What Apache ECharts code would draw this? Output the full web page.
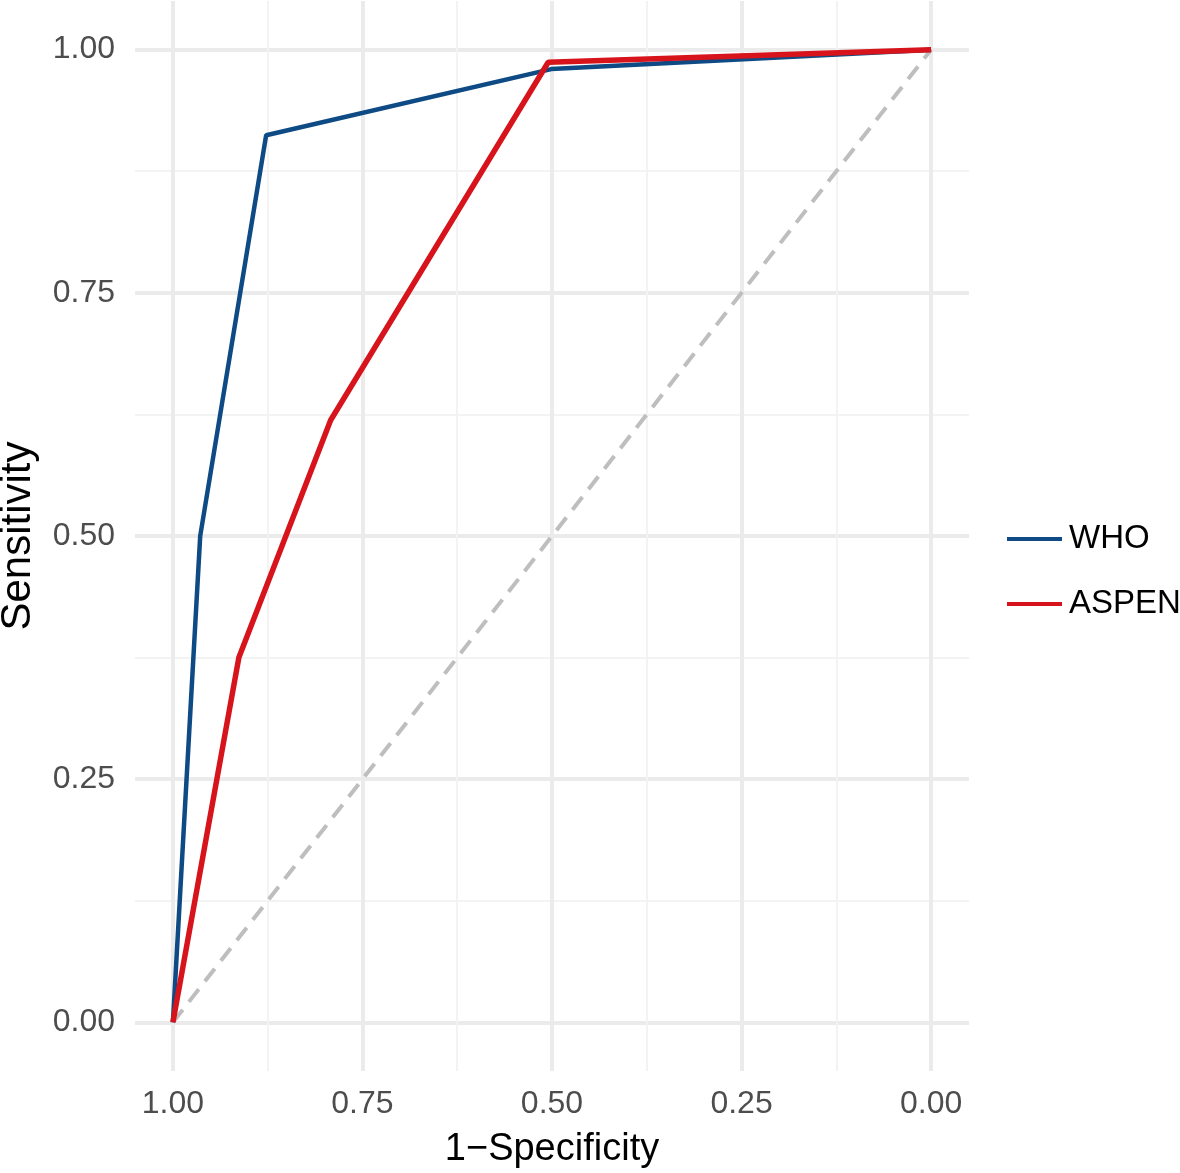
<!DOCTYPE html>
<html><head><meta charset="utf-8">
<script src="https://cdn.jsdelivr.net/npm/echarts@6/dist/echarts.min.js"></script>
<style>html,body{margin:0;padding:0;background:#fff}#c{width:1180px;height:1173px}</style>
</head><body><div id="c"></div>
<script>
const tickValues = [0, 0.25, 0.5, 0.75, 1];
const minorValues = [0.125, 0.375, 0.625, 0.875];
const whoX = [1, 0.964, 0.877, 0.501, 0];
const whoY = [0, 0.50, 0.912, 0.980, 1];
const aspenX = [1, 0.913, 0.792, 0.505, 0];
const aspenY = [0, 0.375, 0.619, 0.987, 1];
const refX = [1, 0];
const refY = [0, 1];

const font = '"Liberation Sans", Arial, sans-serif';
const zip = (a, b) => a.map((v, i) => [v, b[i]]);

function axis(isX, major) {
  const vals = major ? tickValues : minorValues;
  const a = {
    type: 'value', min: -0.05, max: 1.05,
    position: isX ? 'bottom' : 'left', offset: 0,
    axisLine: {show: false},
    axisTick: {show: false, customValues: vals},
    splitLine: {show: true, customValues: vals, lineStyle: {color: major ? '#ebebeb' : '#f3f3f3', width: major ? 4 : 2}},
    axisLabel: {show: major, customValues: vals, formatter: v => v.toFixed(2), fontFamily: font, fontSize: 32, color: '#4d4d4d', margin: isX ? 17 : 20}
  };
  if (isX) a.inverse = true;
  if (major) {
    a.name = isX ? '1\u2212Specificity' : 'Sensitivity';
    a.nameLocation = 'middle';
    a.nameGap = isX ? 60 : 96;
    a.nameTextStyle = {fontFamily: font, fontSize: isX ? 38 : 42, color: '#000'};
  }
  return a;
}

const chart = echarts.init(document.getElementById('c'), null, {renderer: 'canvas'});
chart.setOption({
  animation: false,
  backgroundColor: '#fff',
  grid: {left: 135, right: 211, top: 1, bottom: 102, outerBoundsMode: 'none', containLabel: false},
  xAxis: [axis(true, false), axis(true, true)],
  yAxis: [axis(false, false), axis(false, true)],
  legend: {
    orient: 'vertical', left: 1002, top: 517, icon: 'rect', itemWidth: 55, itemHeight: 4, itemGap: 31,
    data: ['WHO', 'ASPEN'],
    textStyle: {fontFamily: font, fontSize: 33, color: '#000', lineHeight: 34, padding: [0, 0, 0, 2]}
  },
  series: [
    {type: 'line', name: 'ref', data: zip(refX, refY), showSymbol: false, z: 2, xAxisIndex: 1, yAxisIndex: 1,
     lineStyle: {color: '#bebebe', width: 4, type: [16, 10]}},
    {type: 'line', name: 'WHO', data: zip(whoX, whoY), showSymbol: false, z: 3, xAxisIndex: 1, yAxisIndex: 1,
     lineStyle: {color: '#0e4a84', width: 4.5}, itemStyle: {color: '#0e4a84'}},
    {type: 'line', name: 'ASPEN', data: zip(aspenX, aspenY), showSymbol: false, z: 4, xAxisIndex: 1, yAxisIndex: 1,
     lineStyle: {color: '#d7141c', width: 5.5}, itemStyle: {color: '#d7141c'}}
  ]
});
</script></body></html>
